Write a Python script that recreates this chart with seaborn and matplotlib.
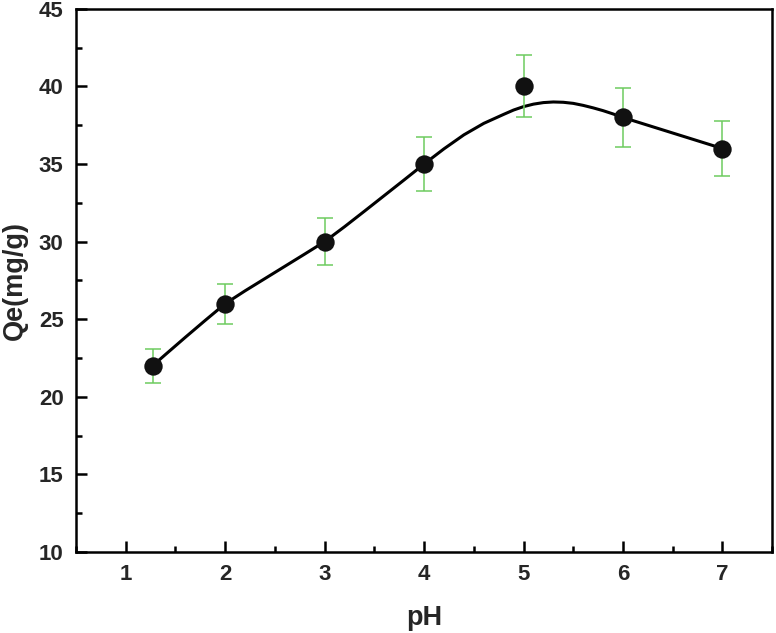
"""
Adsorption capacity vs pH
- measured points with error bars
- smooth fitted curve read from the reference figure
"""

import matplotlib
matplotlib.use("Agg")
import matplotlib.pyplot as plt
from matplotlib.ticker import MultipleLocator
import pandas as pd
import seaborn as sns

# measured data
ph = [1.27, 2.0, 3.0, 4.0, 5.0, 6.0, 7.0]
qe = [22.0, 26.0, 30.0, 35.0, 40.0, 38.0, 36.0]
qe_err = [1.1, 1.3, 1.5, 1.75, 2.0, 1.9, 1.8]

curve_ph = [1.27, 1.4, 1.6, 1.8, 2.0, 2.2, 2.4, 2.6, 2.8, 3.0,
            3.2, 3.4, 3.6, 3.8, 4.0, 4.2, 4.4, 4.6, 4.8, 4.9,
            5.0, 5.1, 5.2, 5.3, 5.4, 5.5, 5.6, 5.7, 5.8, 5.9,
            6.0, 6.25, 6.5, 6.75, 7.0]
curve_qe = [22.0, 22.73, 23.84, 24.93, 26.0, 26.83, 27.62, 28.41, 29.2, 30.0,
            30.96, 31.96, 32.97, 33.98, 35.0, 35.98, 36.88, 37.62, 38.2, 38.48,
            38.7, 38.86, 38.96, 39.0, 38.98, 38.91, 38.78, 38.62, 38.44, 38.23,
            38.0, 37.5, 37.0, 36.5, 36.0]

sns.set_theme(style="white")
plt.rcParams["font.family"] = ["Liberation Sans", "DejaVu Sans"]
plt.rcParams["font.weight"] = "bold"

fig = plt.figure(figsize=(7.76, 6.33), dpi=100)
ax = fig.add_axes([0.098, 0.128, 0.897, 0.858])

curve_df = pd.DataFrame({"pH": curve_ph, "Qe": curve_qe})
pts_df = pd.DataFrame({"pH": ph, "Qe": qe})

sns.lineplot(data=curve_df, x="pH", y="Qe", sort=False, color="black",
             linewidth=2.2, ax=ax, zorder=2)
ax.lines[-1].set_solid_joinstyle("round")
ax.errorbar(ph, qe, yerr=qe_err, fmt="none", ecolor="#6DCB5F",
            elinewidth=1.1, capsize=5.5, capthick=1.1, zorder=3)
sns.scatterplot(data=pts_df, x="pH", y="Qe", color="#111111", s=175,
                edgecolor="#111111", linewidth=0, ax=ax, zorder=4)

ax.set_xlim(0.5, 7.5)
ax.set_ylim(10, 45)
ax.xaxis.set_major_locator(MultipleLocator(1))
ax.xaxis.set_minor_locator(MultipleLocator(0.5))
ax.yaxis.set_major_locator(MultipleLocator(5))
ax.yaxis.set_minor_locator(MultipleLocator(2.5))

ax.tick_params(which="both", direction="in", width=1.8, color="black",
               top=False, right=False, left=True, bottom=True)
ax.tick_params(which="major", length=8, pad=9, labelsize=16)
ax.tick_params(which="minor", length=4)
for lab in ax.get_xticklabels() + ax.get_yticklabels():
    lab.set_fontweight("bold")

for sp in ax.spines.values():
    sp.set_linewidth(1.8)
    sp.set_color("black")

ax.set_xlabel("pH", fontsize=19.5, fontweight="bold", labelpad=14)
ax.set_ylabel("Qe(mg/g)", fontsize=19.5, fontweight="bold", labelpad=8)

fig.savefig("out.png", dpi=100)
plt.close()
